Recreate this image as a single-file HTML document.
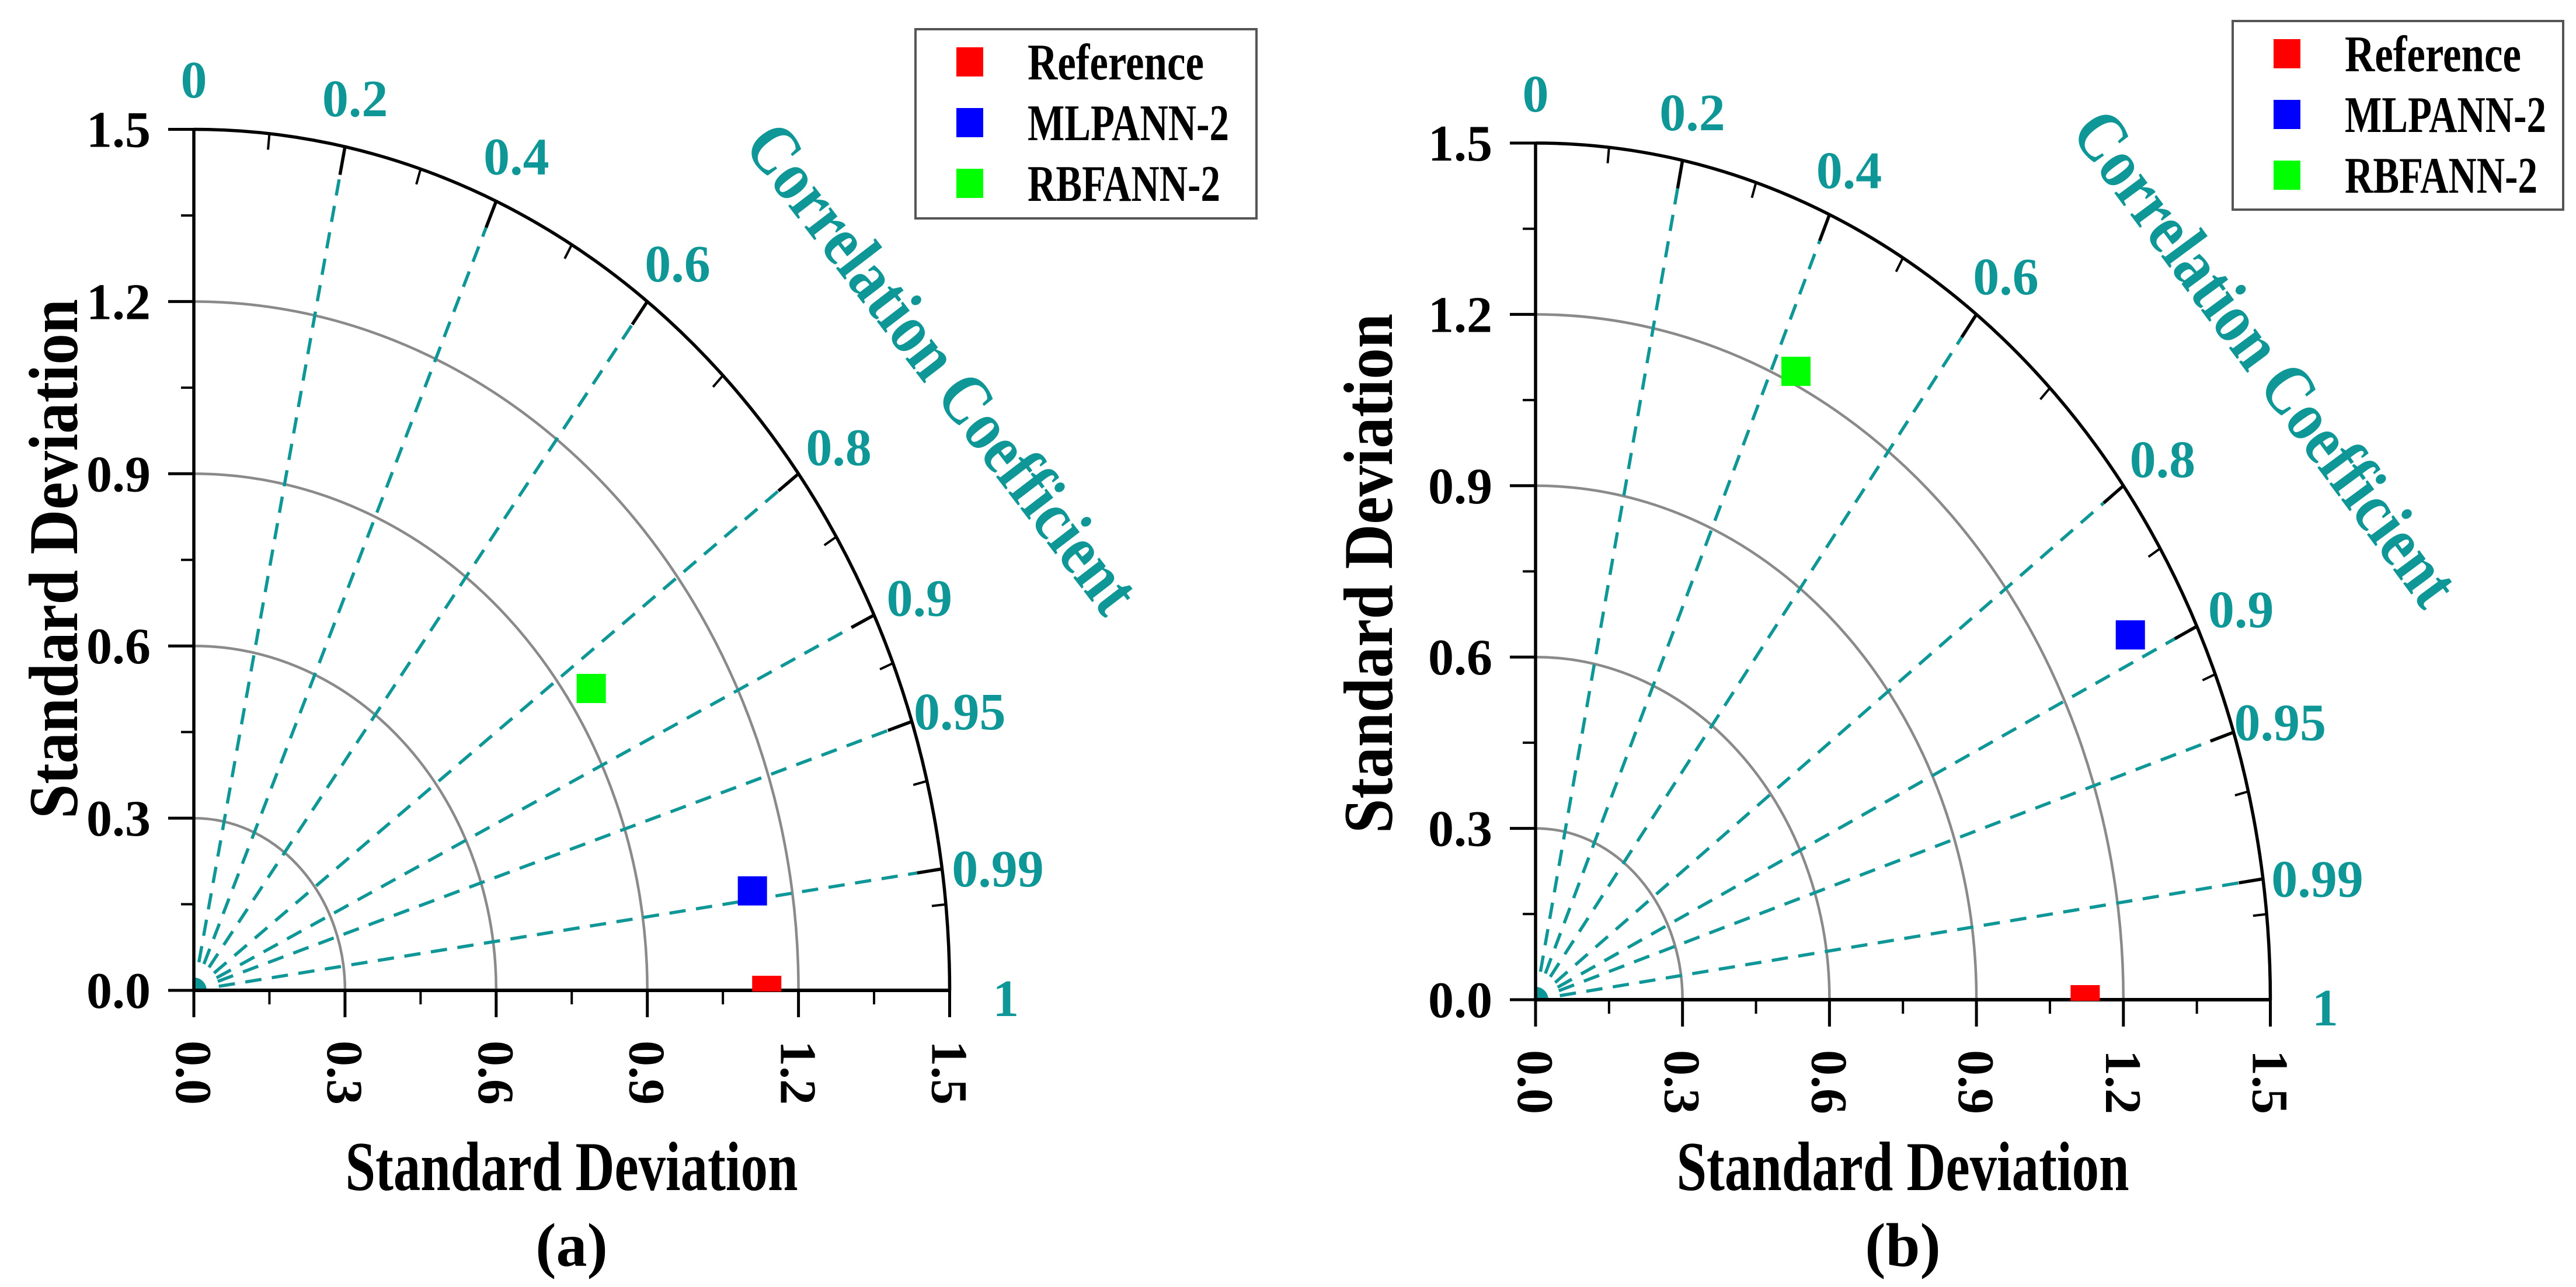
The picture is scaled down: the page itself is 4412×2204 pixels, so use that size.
<!DOCTYPE html>
<html><head><meta charset="utf-8">
<style>
html,body{margin:0;padding:0;background:#fff;}
svg{display:block;}
text{font-family:"Liberation Serif","Times New Roman",serif;font-weight:bold;}
</style></head>
<body>
<svg id="chart" width="4412" height="2204" viewBox="0 0 4412 2204" xmlns="http://www.w3.org/2000/svg">
<rect x="0" y="0" width="4412" height="2204" fill="#fff"/>
</svg>
<script>
// Series data
const seriesNames = ["Reference", "MLPANN-2", "RBFANN-2"];
const seriesColors = ["#ff0000", "#0000ff", "#00ff00"];
// Panel (a): standard deviation & correlation per series
const stdA = [1.137, 1.122, 0.948];
const corrA = [1.0, 0.988, 0.832];
// Panel (b)
const stdB = [1.122, 1.372, 1.222];
const corrB = [1.0, 0.885, 0.435];
// Axis ticks
const stdTicks = [0.0, 0.3, 0.6, 0.9, 1.2, 1.5];
const stdTickLabels = ["0.0", "0.3", "0.6", "0.9", "1.2", "1.5"];
const stdMinorTicks = [0.15, 0.45, 0.75, 1.05, 1.35];
const stdArcs = [0.3, 0.6, 0.9, 1.2];
const corrLines = [0.2, 0.4, 0.6, 0.8, 0.9, 0.95, 0.99];
const corrLabels = [0, 0.2, 0.4, 0.6, 0.8, 0.9, 0.95, 0.99, 1];
const corrLabelText = ["0", "0.2", "0.4", "0.6", "0.8", "0.9", "0.95", "0.99", "1"];
const corrMajorTicks = [0.2, 0.4, 0.6, 0.8, 0.9, 0.95, 0.99];
const corrMinorTicks = [0.1, 0.3, 0.5, 0.7, 0.85, 0.925, 0.97, 0.995];
const maxStd = 1.5;

const NS = "http://www.w3.org/2000/svg";
const svg = document.getElementById("chart");
const TEAL = "#0f9696";

function mk(tag, attrs, parent) {
  const e = document.createElementNS(NS, tag);
  for (const k in attrs) e.setAttribute(k, attrs[k]);
  (parent || svg).appendChild(e);
  return e;
}

function drawPanel(p) {
  const g = mk("g", {});
  
  
  const X = (s, c) => p.ox + s * c * p.ux;
  const Y = (s, c) => p.oy - s * Math.sqrt(Math.max(0, 1 - c * c)) * p.uy;

  stdArcs.forEach(r => {
    const a = mk("path", {d: `M ${p.ox} ${p.oy - r * p.uy} A ${r * p.ux} ${r * p.uy} 0 0 1 ${p.ox + r * p.ux} ${p.oy}`, fill: "none", stroke: "#8a8a8a", "stroke-width": 4.5}, g);
    
    
  });
  corrLines.forEach(c => {
    const l = mk("line", {x1: X(0.05, c), y1: Y(0.05, c), x2: X(maxStd, c), y2: Y(maxStd, c), stroke: TEAL, "stroke-width": 5.5, "stroke-dasharray": "28 18"}, g);
    
    
  });
  const od = mk("path", {d: `M ${p.ox} ${p.oy} L ${p.ox} ${p.oy - 22} A 22 22 0 0 1 ${p.ox + 22} ${p.oy} Z`, fill: TEAL}, g);
  
  
  const oa = mk("path", {d: `M ${p.ox} ${p.oy - maxStd * p.uy} A ${maxStd * p.ux} ${maxStd * p.uy} 0 0 1 ${p.ox + maxStd * p.ux} ${p.oy}`, fill: "none", stroke: "#000", "stroke-width": 5.5}, g);
  
  
  corrMajorTicks.forEach(c => {
    const t = mk("line", {x1: X(maxStd, c), y1: Y(maxStd, c), x2: X(maxStd - 0.05, c), y2: Y(maxStd - 0.05, c), stroke: "#000", "stroke-width": 5.5}, g);
    
    
  });
  corrMinorTicks.forEach(c => {
    const t = mk("line", {x1: X(maxStd, c), y1: Y(maxStd, c), x2: X(maxStd - 0.028, c), y2: Y(maxStd - 0.028, c), stroke: "#000", "stroke-width": 4}, g);
    
    
  });
  const ya = mk("line", {x1: p.ox, y1: p.oy + 2, x2: p.ox, y2: p.oy - maxStd * p.uy, stroke: "#000", "stroke-width": 5.5}, g);
  
  
  const xa = mk("line", {x1: p.ox - 2, y1: p.oy, x2: p.ox + maxStd * p.ux, y2: p.oy, stroke: "#000", "stroke-width": 6}, g);
  
  
  stdTicks.forEach((v, i) => {
    const ty = p.oy - v * p.uy, tx = p.ox + v * p.ux;
    const t1 = mk("line", {x1: p.ox, y1: ty, x2: p.ox - 44, y2: ty, stroke: "#000", "stroke-width": 5}, g);
    
    
    const t2 = mk("line", {x1: tx, y1: p.oy, x2: tx, y2: p.oy + 46, stroke: "#000", "stroke-width": 5}, g);
    
    
    const yl = mk("text", {x: p.ox - 74, y: ty + 30, "font-size": 88, "text-anchor": "end", fill: "#000"}, g);
    yl.textContent = stdTickLabels[i];
    
    
    const bx = tx - 30, by = p.oy + 86;
    const xl = mk("text", {x: bx, y: by, "font-size": 88, "text-anchor": "start", fill: "#000", transform: `rotate(90 ${bx} ${by})`}, g);
    xl.textContent = stdTickLabels[i];
    
    
  });
  stdMinorTicks.forEach(v => {
    const ty = p.oy - v * p.uy, tx = p.ox + v * p.ux;
    const t1 = mk("line", {x1: p.ox, y1: ty, x2: p.ox - 22, y2: ty, stroke: "#000", "stroke-width": 4}, g);
    
    
    const t2 = mk("line", {x1: tx, y1: p.oy, x2: tx, y2: p.oy + 24, stroke: "#000", "stroke-width": 4}, g);
    
    
  });
  corrLabels.forEach((c, i) => {
    const r = 1.6;
    const t = mk("text", {x: X(r, c) + (c > 0.97 ? 10 : 0), y: Y(r, c) + 44, "font-size": 90, "text-anchor": "middle", fill: TEAL}, g);
    t.textContent = corrLabelText[i];
    
    
  });
  const ct = mk("text", {x: p.ccx, y: p.ccy, "font-size": 122, "text-anchor": "middle", fill: TEAL, textLength: 1020, lengthAdjust: "spacingAndGlyphs", transform: `rotate(${p.cca} ${p.ccx} ${p.ccy})`}, g);
  ct.textContent = "Correlation Coefficient";
  
  
  const yt = mk("text", {x: p.ytx, y: p.yty, "font-size": 120, "text-anchor": "middle", fill: "#000", textLength: 890, lengthAdjust: "spacingAndGlyphs", transform: `rotate(-90 ${p.ytx} ${p.yty})`}, g);
  yt.textContent = "Standard Deviation";
  
  
  const xt = mk("text", {x: p.xtx, y: 2038, "font-size": 120, "text-anchor": "middle", fill: "#000", textLength: 775, lengthAdjust: "spacingAndGlyphs"}, g);
  xt.textContent = "Standard Deviation";
  
  
  const pl = mk("text", {x: p.xtx, y: 2168, "font-size": 106, "text-anchor": "middle", fill: "#000"}, g);
  pl.textContent = "(" + p.id + ")";
  
  
  const ms = 50;
  const clip = mk("clipPath", {id: "clip-" + p.id}, g);
  mk("rect", {x: p.ox - 10, y: 0, width: 2000, height: p.oy + 2}, clip);
  p.std.forEach((s, i) => {
    const c = p.corr[i];
    const m = mk("rect", {x: X(s, c) - ms / 2, y: Y(s, c) - ms / 2, width: ms, height: ms, fill: seriesColors[i], "clip-path": `url(#clip-${p.id})`}, g);
    
    
  });
  const lg = mk("g", {}, g);
  
  
  const lb = mk("rect", {x: p.lx, y: p.ly, width: p.lw, height: p.lh, fill: "#fff", stroke: "#555", "stroke-width": 4}, lg);
  
  
  seriesNames.forEach((n, i) => {
    const cy = p.ly + 56 + i * 104;
    const sw = mk("rect", {x: p.lx + 70, y: cy - 25, width: 46, height: 50, fill: seriesColors[i]}, lg);
    
    
    const tl = mk("text", {x: p.lx + 192, y: cy + 30, "font-size": 88, fill: "#000", textLength: [302, 345, 330][i], lengthAdjust: "spacingAndGlyphs"}, lg);
    tl.textContent = n;
    
    
  });
}

drawPanel({id: "a", ox: 332, oy: 1696, ux: 863, uy: 983, std: stdA, corr: corrA,
  lx: 1568, ly: 50, lw: 584, lh: 324, ytx: 132, yty: 957, xtx: 979,
  ccx: 1582, ccy: 655, cca: 52.5});
drawPanel({id: "b", ox: 2630, oy: 1712, ux: 839, uy: 978, std: stdB, corr: corrB,
  lx: 3824, ly: 36, lw: 566, lh: 323, ytx: 2384, yty: 982, xtx: 3259,
  ccx: 3848, ccy: 637, cca: 53.5});
</script>
</body></html>
